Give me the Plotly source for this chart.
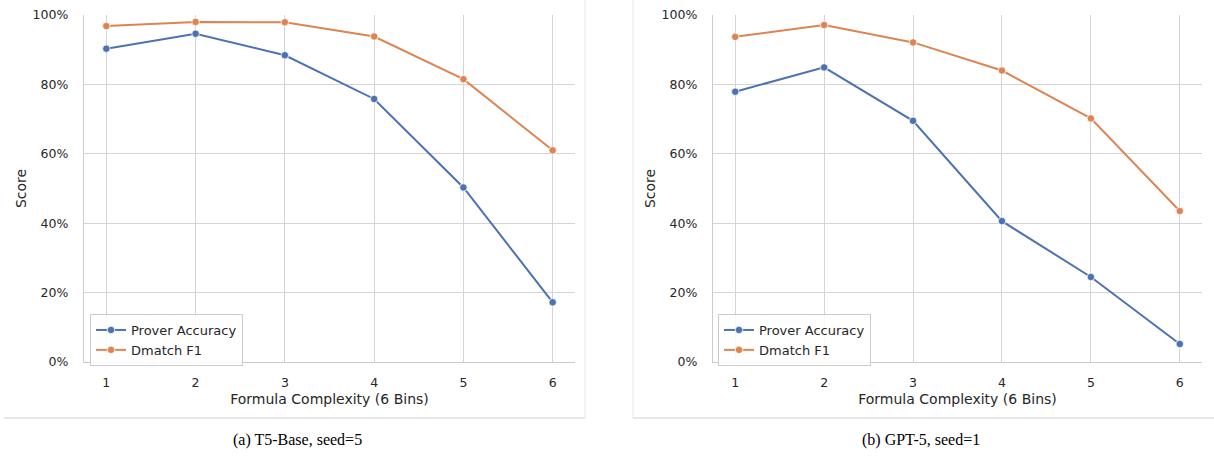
import plotly.graph_objects as go

W, H = 1214, 459

bins = [1, 2, 3, 4, 5, 6]
x_ticks = [1, 2, 3, 4, 5, 6]
y_ticks = [0, 0.2, 0.4, 0.6, 0.8, 1.0]

# (a) T5-Base, seed=5
t5_prover = [0.903, 0.946, 0.884, 0.758, 0.503, 0.172]
t5_dmatch = [0.968, 0.980, 0.979, 0.938, 0.815, 0.610]

# (b) GPT-5, seed=1
gpt_prover = [0.779, 0.849, 0.695, 0.406, 0.245, 0.052]
gpt_dmatch = [0.937, 0.971, 0.921, 0.840, 0.702, 0.435]

series_names = ["Prover Accuracy", "Dmatch F1"]
captions = ["(a) T5-Base, seed=5", "(b) GPT-5, seed=1"]
x_title = "Formula Complexity (6 Bins)"
y_title = "Score"

BLUE = "#4C72B0"
ORANGE = "#DD8452"
GRID = "#d4d4d4"
TEXT = "#262626"
FONT = "DejaVu Sans"


def px(x):
    return x / W


def py(y):
    return 1 - y / H


fig = go.Figure()

panels = [
    dict(xa="x", ya="y", legend="legend", prover=t5_prover, dmatch=t5_dmatch),
    dict(xa="x2", ya="y2", legend="legend2", prover=gpt_prover, dmatch=gpt_dmatch),
]

for p in panels:
    for name, vals, col in [(series_names[0], p["prover"], BLUE), (series_names[1], p["dmatch"], ORANGE)]:
        fig.add_trace(go.Scatter(
            x=bins, y=vals, mode="lines+markers", name=name,
            line=dict(color=col, width=2),
            marker=dict(size=7.5, color=col, line=dict(color="white", width=0.8)),
            xaxis=p["xa"], yaxis=p["ya"], legend=p["legend"],
        ))

y_dom = [py(362), py(15)]
axis_common = dict(
    showgrid=True, gridcolor=GRID, gridwidth=1.2,
    showline=True, linecolor="#cccccc", linewidth=1.3,
    zeroline=False, ticks="", color=TEXT, automargin=False,
    tickfont=dict(family=FONT, size=12.5, color=TEXT),
    title_font=dict(family=FONT, size=14, color=TEXT),
)

leg_common = dict(
    xanchor="left", yanchor="top",
    bgcolor="rgba(255,255,255,0.85)", bordercolor="#cccccc", borderwidth=1,
    font=dict(family=FONT, size=13, color=TEXT), tracegroupgap=0, itemwidth=30,
)

fig.update_layout(
    template="none",
    width=W, height=H,
    margin=dict(l=0, r=0, t=0, b=0, pad=0),
    paper_bgcolor="white", plot_bgcolor="white",
    font=dict(family=FONT, color=TEXT),
    xaxis=dict(domain=[px(84), px(575)], range=[0.75, 6.25], anchor="y",
               tickvals=x_ticks, title=dict(text=x_title, standoff=5),
               ticklabelstandoff=9, **axis_common),
    yaxis=dict(domain=y_dom, range=[0, 1], anchor="x",
               tickvals=y_ticks, tickformat=".0%", title=dict(text=y_title, standoff=2),
               ticklabelstandoff=12, **axis_common),
    xaxis2=dict(domain=[px(713), px(1202)], range=[0.75, 6.25], anchor="y2",
                tickvals=x_ticks, title=dict(text=x_title, standoff=5),
                ticklabelstandoff=9, **axis_common),
    yaxis2=dict(domain=y_dom, range=[0, 1], anchor="x2",
                tickvals=y_ticks, tickformat=".0%", title=dict(text=y_title, standoff=2),
                ticklabelstandoff=12, **axis_common),
    legend=dict(x=px(90), y=py(314), **leg_common),
    legend2=dict(x=px(718), y=py(314), **leg_common),
    showlegend=True,
)

# panel frames (light gray borders of the embedded sub-figures)
frame = dict(type="line", xref="paper", yref="paper")
fig.add_shape(**frame, x0=px(585), x1=px(585), y0=py(0), y1=py(418), line=dict(color="#e6e6e6", width=1))
fig.add_shape(**frame, x0=px(4), x1=px(585), y0=py(418), y1=py(418), line=dict(color="#cfcfcf", width=1))
fig.add_shape(**frame, x0=px(633), x1=px(633), y0=py(0), y1=py(418), line=dict(color="#e6e6e6", width=1))
fig.add_shape(**frame, x0=px(633), x1=1, y0=py(418), y1=py(418), line=dict(color="#cfcfcf", width=1))

for cap, cx in zip(captions, [297, 921]):
    fig.add_annotation(text=cap, xref="paper", yref="paper", x=px(cx), y=py(440),
                       xanchor="center", yanchor="middle", showarrow=False,
                       font=dict(family="Liberation Serif", size=16, color="#000000"))

fig.write_html("out.html", config={"displayModeBar": False},
               post_script="document.body.style.margin='0';document.body.style.overflow='hidden';")
